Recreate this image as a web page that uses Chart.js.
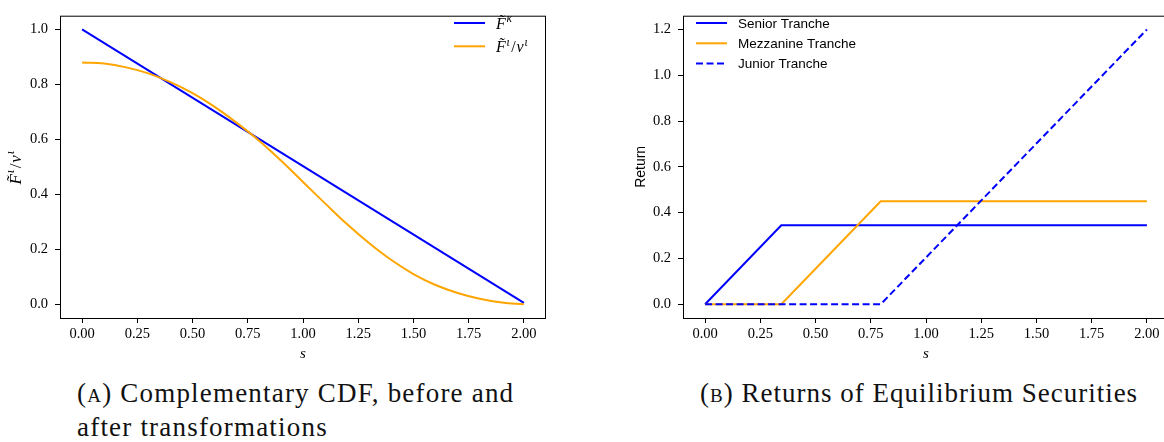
<!DOCTYPE html>
<html>
<head>
<meta charset="utf-8">
<script src="https://cdn.jsdelivr.net/npm/chart.js@4.4.1/dist/chart.umd.min.js"></script>
<style>
  body {
    margin: 0;
    width: 1164px;
    height: 442px;
    overflow: hidden;
    background: #fff;
    position: relative;
  }
  canvas {
    position: absolute;
    top: 0;
  }
  #cdfChart { left: 0; }
  #returnChart { left: 600px; }
  .caption {
    position: absolute;
    font-family: "Liberation Serif", serif;
    font-size: 27px;
    line-height: 34px;
    color: #111;
    white-space: nowrap;
  }
  .sc { font-variant: small-caps; }
</style>
</head>
<body>
<canvas id="cdfChart" width="600" height="370"></canvas>
<canvas id="returnChart" width="600" height="370"></canvas>
<div class="caption" style="left: 77px; top: 376px; letter-spacing: 1.2px;">(<span class="sc">a</span>) Complementary CDF, before and<br>after transformations</div>
<div class="caption" style="left: 700px; top: 376px; letter-spacing: 1px;">(<span class="sc">b</span>) Returns of Equilibrium Securities</div>

<script>
// ---- data ----
const sGrid = [0, 0.1, 0.2, 0.3, 0.4, 0.5, 0.6, 0.7, 0.8, 0.9, 1.0,
  1.1, 1.2, 1.3, 1.4, 1.5, 1.6, 1.7, 1.8, 1.9, 2.0];
const iotaValues = [0.880, 0.876, 0.862, 0.840, 0.808, 0.768, 0.718, 0.660, 0.596, 0.523, 0.445,
  0.367, 0.291, 0.222, 0.161, 0.110, 0.070, 0.041, 0.020, 0.006, 0.0];
const kappaS = [0, 2];
const kappaValues = [1.0, 0.005];

const trancheS = [0, 0.345, 0.795, 2.0];
const seniorReturn = [0, 0.345, 0.345, 0.345];
const mezzanineReturn = [0, 0, 0.45, 0.45];
const juniorReturn = [0, 0, 0, 1.2];

const sTicks = [0, 0.25, 0.5, 0.75, 1.0, 1.25, 1.5, 1.75, 2.0];
const cdfTicks = [0, 0.2, 0.4, 0.6, 0.8, 1.0];
const returnTicks = [0, 0.2, 0.4, 0.6, 0.8, 1.0, 1.2];

const kappaLabel = [{ t: "F", tilde: true }, { t: "\u03BA", sup: true }];
const iotaLabel = [{ t: "F", tilde: true }, { t: "\u03B9", sup: true },
  { t: "/", upright: true }, { t: "v" }, { t: "\u03B9", sup: true }];
const cdfAxisLabel = iotaLabel;

const BLUE = "#0000ff";
const ORANGE = "#ffa500";

const toPoints = (xs, ys) => xs.map((x, i) => ({ x: x, y: ys[i] }));

// draws a small TeX-like label, returns its width
function drawMath(ctx, parts, x, y, size, measureOnly) {
  let cx = x;
  for (const p of parts) {
    const fs = p.sup ? size * 0.72 : size;
    ctx.font = (p.upright ? "" : "italic ") + fs + 'px "Liberation Serif"';
    const w = ctx.measureText(p.t).width;
    if (!measureOnly) {
      ctx.fillText(p.t, cx, p.sup ? y - size * 0.42 : y);
      if (p.tilde) {
        ctx.font = size + 'px "Liberation Serif"';
        const tw = ctx.measureText("\u02DC").width;
        ctx.fillText("\u02DC", cx + w * 0.62 - tw / 2, y - size * 0.2);
      }
    }
    cx += w + (p.sup ? size * 0.1 : size * 0.05);
  }
  return cx - x;
}

// box, axis titles and legend in matplotlib style
const decorPlugin = {
  id: "decor",
  afterDraw(chart, args, opts) {
    const { ctx, chartArea: a } = chart;
    ctx.save();
    ctx.strokeStyle = "#000";
    ctx.lineWidth = 1;
    ctx.strokeRect(a.left + 0.5, a.top + 0.5, a.right - a.left - 1, a.bottom - a.top);

    ctx.fillStyle = "#000";
    ctx.textBaseline = "alphabetic";

    // x title
    drawMath(ctx, [{ t: opts.xTitle }], (a.left + a.right) / 2 - 3, opts.xTitleY, 15);

    // y title
    ctx.save();
    ctx.translate(opts.yTitleX, (a.top + a.bottom) / 2);
    ctx.rotate(-Math.PI / 2);
    if (opts.yTitleMath) {
      const w = drawMath(ctx, opts.yTitleMath, 0, 0, 17, true);
      drawMath(ctx, opts.yTitleMath, -w / 2, 5, 17);
    } else {
      ctx.font = '14px "Liberation Sans"';
      ctx.textAlign = "center";
      ctx.textBaseline = "middle";
      ctx.fillText(opts.yTitle, 0, 0);
    }
    ctx.restore();

    // legend
    const lg = opts.legend;
    chart.data.datasets.forEach((ds, i) => {
      const y = lg.y + i * lg.gap;
      ctx.save();
      ctx.strokeStyle = ds.borderColor;
      ctx.lineWidth = ds.borderWidth;
      ctx.setLineDash(ds.borderDash || []);
      ctx.beginPath();
      ctx.moveTo(lg.x, y);
      ctx.lineTo(lg.x + 31, y);
      ctx.stroke();
      ctx.restore();
      ctx.fillStyle = "#000";
      if (lg.math) {
        ctx.textBaseline = "alphabetic";
        drawMath(ctx, lg.math[i], lg.x + 42, y + 6, 16);
      } else {
        ctx.font = '13.5px "Liberation Sans"';
        ctx.textBaseline = "middle";
        ctx.textAlign = "left";
        ctx.fillText(ds.label, lg.x + 42, y + 1);
      }
    });
    ctx.restore();
  },
};

function makeScale(min, max, tickValues, decimals, axisWidth) {
  return {
    type: "linear",
    min: min,
    max: max,
    afterBuildTicks: (scale) => {
      scale.ticks = tickValues.map((v) => ({ value: v }));
    },
    afterFit: (scale) => {
      if (axisWidth.width) scale.width = axisWidth.width;
      if (axisWidth.height) scale.height = axisWidth.height;
    },
    border: { display: false },
    grid: {
      drawOnChartArea: false,
      drawTicks: true,
      tickLength: 5,
      color: "#000",
    },
    ticks: {
      padding: axisWidth.width ? 7 : 2,
      color: "#000",
      font: { family: "Liberation Serif", size: 14.5 },
      callback: (v) => Number(v).toFixed(decimals),
    },
  };
}

const baseOptions = {
  responsive: false,
  maintainAspectRatio: false,
  animation: false,
  events: [],
  elements: { point: { radius: 0 } },
};

new Chart(document.getElementById("cdfChart").getContext("2d"), {
  type: "line",
  data: {
    datasets: [
      {
        label: "F~kappa",
        data: toPoints(kappaS, kappaValues),
        borderColor: BLUE,
        borderWidth: 2,
        order: 1,
      },
      {
        label: "F~iota / v iota",
        data: toPoints(sGrid, iotaValues),
        borderColor: ORANGE,
        borderWidth: 2,
        tension: 0.4,
        order: 0,
      },
    ],
  },
  options: {
    ...baseOptions,
    layout: { padding: { left: 0, top: 5, right: 54, bottom: 0 } },
    scales: {
      x: makeScale(-0.1, 2.1, sTicks, 2, { height: 52 }),
      y: makeScale(-0.05, 1.05, cdfTicks, 1, { width: 60 }),
    },
    plugins: {
      legend: { display: false },
      tooltip: { enabled: false },
      decor: {
        xTitle: "s",
        xTitleY: 358,
        yTitleX: 16,
        yTitleMath: cdfAxisLabel,
        legend: { x: 454, y: 23, gap: 23.3, math: [kappaLabel, iotaLabel] },
      },
    },
  },
  plugins: [decorPlugin],
});

new Chart(document.getElementById("returnChart").getContext("2d"), {
  type: "line",
  data: {
    datasets: [
      {
        label: "Senior Tranche",
        data: toPoints(trancheS, seniorReturn),
        borderColor: BLUE,
        borderWidth: 2,
        order: 2,
      },
      {
        label: "Mezzanine Tranche",
        data: toPoints(trancheS, mezzanineReturn),
        borderColor: ORANGE,
        borderWidth: 2,
        order: 1,
      },
      {
        label: "Junior Tranche",
        data: toPoints(trancheS, juniorReturn),
        borderColor: BLUE,
        borderWidth: 2,
        borderDash: [7, 3.5],
        order: 0,
      },
    ],
  },
  options: {
    ...baseOptions,
    layout: { padding: { left: 0, top: 5, right: 31, bottom: 0 } },
    scales: {
      x: makeScale(-0.1, 2.1, sTicks, 2, { height: 52 }),
      y: makeScale(-0.06, 1.26, returnTicks, 1, { width: 83 }),
    },
    plugins: {
      legend: { display: false },
      tooltip: { enabled: false },
      decor: {
        xTitle: "s",
        xTitleY: 358,
        yTitleX: 41,
        yTitle: "Return",
        legend: { x: 96, y: 23, gap: 20.3 },
      },
    },
  },
  plugins: [decorPlugin],
});
</script>
</body>
</html>
